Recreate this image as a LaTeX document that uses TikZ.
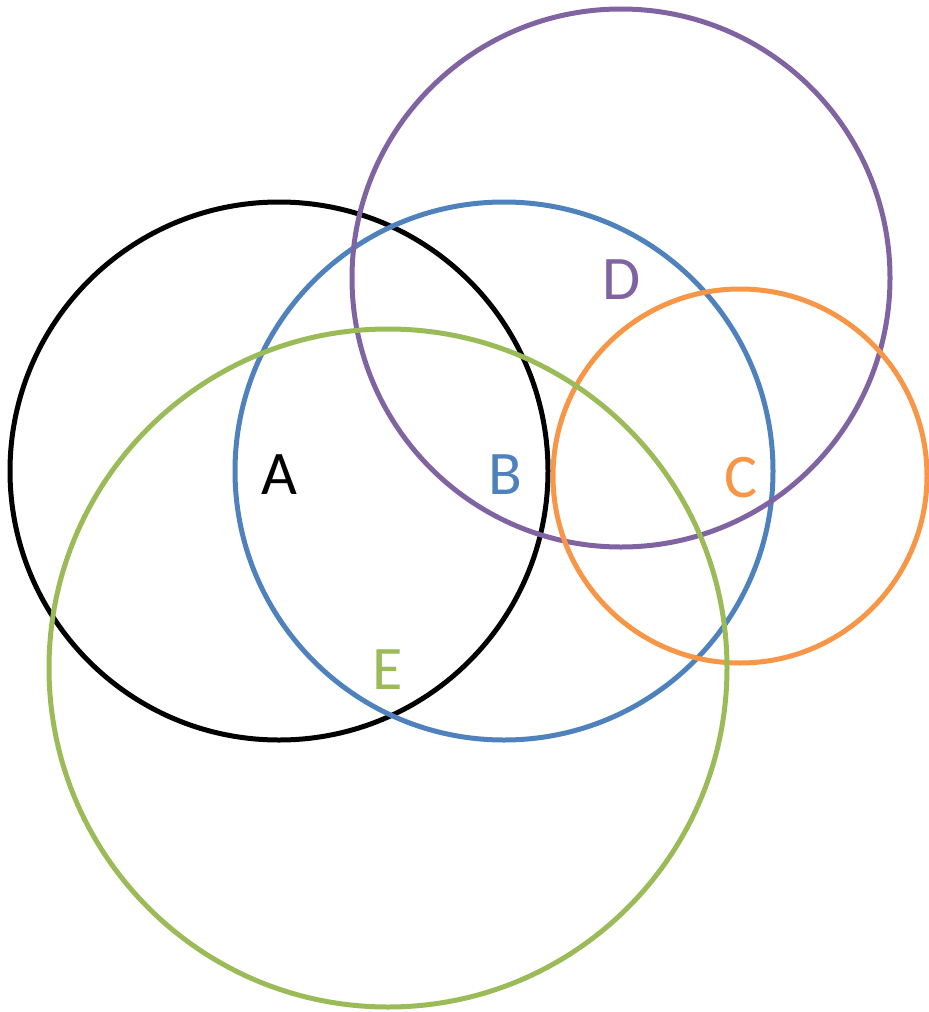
\documentclass[tikz,border=0pt]{standalone}
\usepackage{fontspec}
\setmainfont{Carlito}
\definecolor{setA}{HTML}{000000}
\definecolor{setB}{HTML}{4F81BD}
\definecolor{setC}{HTML}{F79646}
\definecolor{setD}{HTML}{8064A2}
\definecolor{setE}{HTML}{9BBB59}
\begin{document}
\begin{tikzpicture}[x=0.5pt,y=-0.5pt]
\tikzset{ring/.style={line width=2.5pt},
         setlab/.style={font=\fontsize{31}{31}\selectfont,inner sep=0pt}}
\useasboundingbox (0,0) rectangle (928,1012);

% the five sets: name / centre / radius / label position
\foreach \n/\cx/\cy/\r/\lx/\ly in {A/279/471/269/279/475, B/504/471/269/505/475,
    D/621/278/269/622/280, C/740/476/187/741/478, E/388/668/339/388/670}
{
    \draw[ring,draw=set\n] (\cx,\cy) circle[radius=\r];
    \node[setlab,text=set\n] (lab\n) at (\lx,\ly) {\n};
}
\end{tikzpicture}
\end{document}
